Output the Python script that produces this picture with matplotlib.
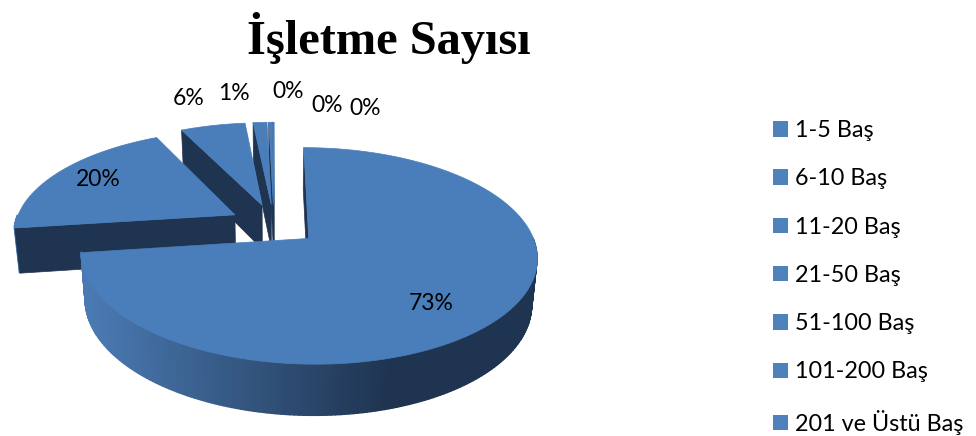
import numpy as np
import matplotlib
matplotlib.use('Agg')
import matplotlib.pyplot as plt
from matplotlib.collections import PolyCollection
from matplotlib.colors import to_rgb
from matplotlib.patches import Patch

# chart data, share of each group in percent
categories = ['1-5 Baş', '6-10 Baş', '11-20 Baş', '21-50 Baş', '51-100 Baş', '101-200 Baş', '201 ve Üstü Baş']
shares = [72.9, 19.9, 5.6, 1.2, 0.3, 0.08, 0.02]
title = 'İşletme Sayısı'

# where the percent labels sit, in pixels
label_x = [431, 98, 189, 234, 288, 327, 365]
label_y = [303, 179, 98, 94, 92, 105, 108]

# camera for the tilted pie
CX, CY = 273.5, 224
SCALE_X, SCALE_Y = 220, 101
PERSP = 0.158
EXPLODE = 0.205
DEPTH = 45

TOP = '#4A7EBB'
DARK = '#1F3450'
SIDE_LIGHT = '#4A7AB3'


def project(px, py, bottom=False):
    # plane coordinates to pixel coordinates
    w = 1 + PERSP * py
    x = SCALE_X * px / w
    y = -SCALE_Y * py / w
    if bottom:
        x = x * 0.98
        y = y + DEPTH / w ** 0.7
    return CX + x, CY + y


def side_color(x):
    # the rim goes dark from left to right
    t = np.clip((x - 88) / 300, 0, 1)
    a = np.array(to_rgb(SIDE_LIGHT))
    b = np.array(to_rgb(DARK))
    return tuple(a + (b - a) * t)


def quad(x0, y0, x1, y1, x2, y2, x3, y3):
    return [(x0, y0), (x1, y1), (x2, y2), (x3, y3)]


fig = plt.figure(figsize=(9.76, 4.36), dpi=100)
ax = fig.add_axes([0, 0, 1, 1])
ax.set_xlim(0, 976)
ax.set_ylim(436, 0)
ax.axis('off')

total = sum(shares)
angles = np.cumsum([0] + [s / total * 2 * np.pi for s in shares])

# draw from the back of the pie to the front
order = list(range(len(shares)))[::-1]
order = [i for i in order if i != 0] + [0]
z = 2
for i in order:
    a0, a1 = angles[i], angles[i + 1]
    mid = (a0 + a1) / 2
    ox, oy = EXPLODE * np.sin(mid), EXPLODE * np.cos(mid)
    n = max(2, int((a1 - a0) / np.radians(1)) + 1)
    t = np.linspace(a0, a1, n)
    px = ox + np.sin(t)
    py = oy + np.cos(t)
    tx, ty = project(px, py)
    bx, by = project(px, py, True)
    ax_t, ay_t = project(ox, oy)
    ax_b, ay_b = project(ox, oy, True)

    # outer rim, front part only
    polys = []
    cols = []
    for j in range(n - 1):
        if np.cos((t[j] + t[j + 1]) / 2) < 0:
            polys.append(quad(tx[j], ty[j], tx[j + 1], ty[j + 1], bx[j + 1], by[j + 1], bx[j], by[j]))
            cols.append(side_color((tx[j] + tx[j + 1]) / 2))
    if polys:
        ax.add_collection(PolyCollection(polys, facecolors=cols, edgecolors=cols, linewidths=1.0, zorder=z))
    z += 1

    # cut walls that face the viewer
    if np.sin(a0) <= 1e-9:
        wall = quad(ax_t, ay_t, tx[0], ty[0], bx[0], by[0], ax_b, ay_b)
        ax.add_collection(PolyCollection([wall], facecolors=DARK, edgecolors=DARK, linewidths=0.5, zorder=z))
        z += 1
    if -np.sin(a1) <= 0:
        wall = quad(ax_t, ay_t, tx[-1], ty[-1], bx[-1], by[-1], ax_b, ay_b)
        ax.add_collection(PolyCollection([wall], facecolors=DARK, edgecolors=DARK, linewidths=0.5, zorder=z))
        z += 1

    # top face
    face = np.column_stack([np.r_[ax_t, tx], np.r_[ay_t, ty]])
    ax.add_collection(PolyCollection([face], facecolors=TOP, edgecolors=TOP, linewidths=0.5, zorder=z))
    z += 1

# percent labels
for s, x, y in zip(shares, label_x, label_y):
    ax.text(x, y, '%d%%' % round(s / total * 100), ha='center', va='center',
            fontsize=16.5, family='Lato', color='black', zorder=100)

ax.text(389, 38, title, ha='center', va='center', fontsize=34.8, fontweight='bold',
        family='Liberation Serif', color='black')

# legend
handles = [Patch(facecolor='#4F81BD', edgecolor='none', label=c) for c in categories]
ax.legend(handles=handles, loc='upper left', bbox_to_anchor=(773 / 976, 1 - 120 / 436),
          frameon=False, prop={'family': 'Lato', 'size': 16.8},
          handlelength=0.64, handleheight=0.64, handletextpad=0.3,
          labelspacing=1.17, borderpad=0, borderaxespad=0)

fig.savefig('out.png', dpi=100)
